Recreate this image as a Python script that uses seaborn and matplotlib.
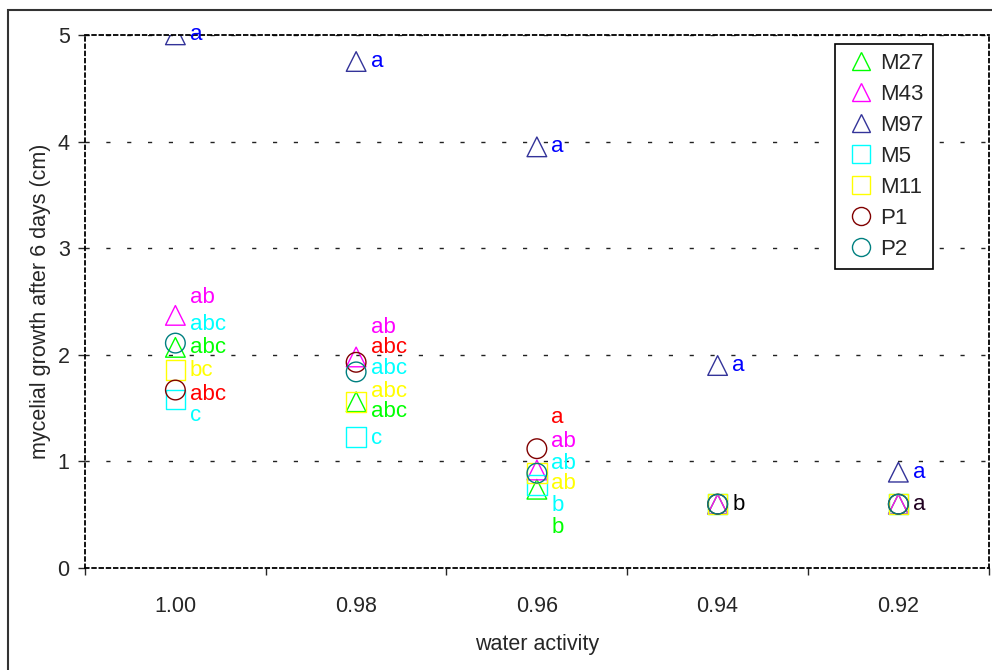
import numpy as np
import pandas as pd
import seaborn as sns
from matplotlib import pyplot as plt
from matplotlib.lines import Line2D
from matplotlib.patches import Rectangle

# water activity levels (categories, in plotting order)
water = ["1.00", "0.98", "0.96", "0.94", "0.92"]

# mycelial growth after 6 days (cm)
strains = ["M27", "M43", "M97", "M5", "M11", "P1", "P2"]
m27 = [2.07, 1.56, 0.74, 0.60, 0.60]
m43 = [2.37, 1.98, 0.92, 0.60, 0.60]
m97 = [5.00, 4.75, 3.95, 1.90, 0.90]
m5 = [1.58, 1.23, 0.78, 0.60, 0.60]
m11 = [1.86, 1.56, 0.89, 0.60, 0.60]
p1 = [1.67, 1.93, 1.12, 0.60, 0.60]
p2 = [2.11, 1.84, 0.89, 0.60, 0.60]

# significance letters next to the markers
lab_cat = ["1.00"] * 7 + ["0.98"] * 7 + ["0.96"] * 7 + ["0.94"] * 2 + ["0.92"] * 2
lab_text = ["a", "ab", "abc", "abc", "bc", "abc", "c",
            "a", "ab", "abc", "abc", "abc", "abc", "c",
            "a", "a", "ab", "ab", "ab", "b", "b",
            "a", "b",
            "a", "a"]
lab_y = [5.00, 2.54, 2.28, 2.07, 1.85, 1.63, 1.43,
         4.75, 2.26, 2.07, 1.87, 1.66, 1.47, 1.22,
         3.95, 1.41, 1.19, 0.98, 0.79, 0.59, 0.38,
         1.90, 0.60,
         0.90, 0.60]
lab_color = ["#0000FF", "#FF00FF", "#00FFFF", "#00FF00", "#FFFF00", "#FF0000", "#00FFFF",
             "#0000FF", "#FF00FF", "#FF0000", "#00FFFF", "#FFFF00", "#00FF00", "#00FFFF",
             "#0000FF", "#FF0000", "#FF00FF", "#00FFFF", "#FFFF00", "#00FFFF", "#00FF00",
             "#0000FF", "#000000",
             "#0000FF", "#200020"]

colors = {"M27": "#00FF00", "M43": "#FF00FF", "M97": "#333399", "M5": "#00FFFF",
          "M11": "#FFFF00", "P1": "#800000", "P2": "#008080"}
markers = {"M27": "^", "M43": "^", "M97": "^", "M5": "s",
           "M11": "s", "P1": "o", "P2": "o"}

series = [m27, m43, m97, m5, m11, p1, p2]
df = pd.DataFrame({
    "water": water * len(strains),
    "strain": np.repeat(strains, len(water)),
    "growth": np.concatenate(series),
})

sns.set_style("white")
plt.rcParams["font.family"] = ["Liberation Sans", "DejaVu Sans"]

fig = plt.figure(figsize=(9.92, 6.70), dpi=100)
ax = fig.add_axes([0.0857, 0.152, 0.911, 0.796])

sns.scatterplot(data=df, x="water", y="growth", hue="strain", style="strain",
                palette=colors, markers=markers, s=200, linewidth=1.0,
                legend=False, ax=ax)
# open markers
for coll in ax.collections:
    coll.set_edgecolors(coll.get_facecolors())
    coll.set_facecolor("none")

pos = {w: i for i, w in enumerate(water)}
for c, t, y, col in zip(lab_cat, lab_text, lab_y, lab_color):
    ax.text(pos[c] + 0.08, y, t, color=col, fontsize=16, va="center", ha="left")

ax.set_xlim(-0.5, len(water) - 0.5)
ax.set_ylim(0, 5)
ax.set_yticks(range(0, 6))
ax.set_xticks(range(len(water)))
ax.set_xticks(np.arange(-0.5, len(water)), minor=True)
ax.tick_params(axis="x", which="major", length=0, pad=20, labelsize=15.5)
ax.tick_params(axis="x", which="minor", length=5, width=1, direction="out", bottom=True)
ax.tick_params(axis="y", length=5, width=1, direction="out", left=True, pad=6, labelsize=15.5)

ax.yaxis.grid(True, color="#222222", linestyle=(0, (3, 12)), linewidth=1)
ax.xaxis.grid(False)
for sp in ax.spines.values():
    sp.set_visible(True)
    sp.set_color("black")
    sp.set_linewidth(1.3)
    sp.set_linestyle((0, (2, 2)))

ax.set_xlabel("water activity", fontsize=15.5, labelpad=12)
ax.set_ylabel("mycelial growth after 6 days (cm)", fontsize=15.5, labelpad=5)

handles = [Line2D([], [], linestyle="none", marker=markers[s], markersize=13,
                  markerfacecolor="none", markeredgecolor=colors[s], markeredgewidth=1.0)
           for s in strains]
leg = ax.legend(handles, strains, loc="upper right", bbox_to_anchor=(0.948, 1.0),
                fontsize=16, frameon=True, fancybox=False, framealpha=1,
                edgecolor="black", handlelength=1.5, handletextpad=0.15,
                labelspacing=0.45, borderpad=0.4, borderaxespad=0.4)
leg.get_frame().set_linewidth(1.2)

# outer chart border
fig.patches.append(Rectangle((8 / 992, -0.1), 1.1, 1.085, transform=fig.transFigure,
                             fill=False, edgecolor="#333333", linewidth=1.5))

fig.savefig("out.png", dpi=100)
